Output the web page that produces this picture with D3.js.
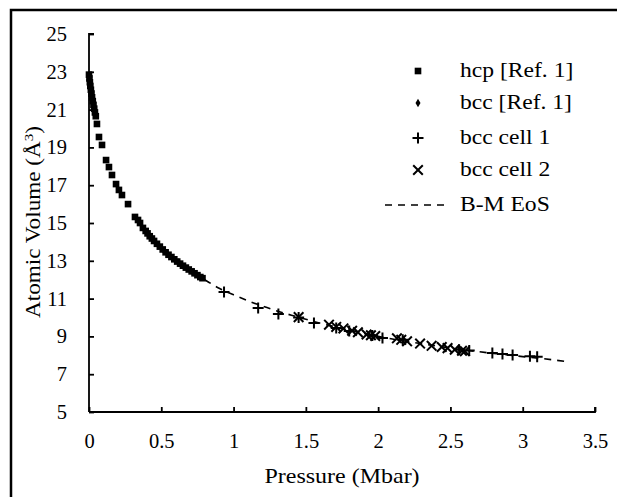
<!DOCTYPE html>
<html><head><meta charset="utf-8">
<script src="https://cdn.jsdelivr.net/npm/d3@7"></script>
<style>body{margin:0;background:#fff}svg{display:block}</style>
</head><body><svg id="c" width="617" height="497"></svg>
<script>
// hcp [Ref. 1]
const hcpP = [0,0.003,0.006,0.009,0.013,0.017,0.021,0.026,0.031,0.036,0.041,0.047,0.055,0.069,0.09,0.118,0.138,0.159,0.187,0.207,0.228,0.27,0.318,0.339,0.353,0.373,0.392,0.405,0.42,0.435,0.45,0.47,0.49,0.51,0.53,0.55,0.57,0.59,0.61,0.63,0.65,0.67,0.69,0.71,0.73,0.75,0.77,0.785];
const hcpV = [22.85,22.65,22.45,22.25,22.05,21.85,21.65,21.45,21.25,21.05,20.85,20.65,20.24,19.55,19.13,18.33,17.96,17.54,17.06,16.75,16.48,16.0,15.32,15.16,15.0,14.74,14.58,14.45,14.3,14.18,14.05,13.9,13.75,13.6,13.45,13.32,13.2,13.08,12.96,12.85,12.74,12.64,12.54,12.44,12.34,12.24,12.14,12.08];
// bcc [Ref. 1]
const bccRefP = [0.52,0.62,0.72];
const bccRefV = [13.52,12.9,12.4];
// bcc cell 1
const cell1P = [0.934,1.17,1.31,1.45,1.556,1.71,1.8,1.96,2.03,2.17,2.56,2.63,2.79,2.86,2.93,3.05,3.1];
const cell1V = [11.35,10.5,10.19,10.0,9.71,9.44,9.29,9.05,8.92,8.82,8.3,8.26,8.12,8.07,8.02,7.95,7.92];
// bcc cell 2
const cell2P = [1.45,1.66,1.71,1.76,1.82,1.86,1.92,1.95,1.98,2.13,2.16,2.2,2.29,2.37,2.44,2.48,2.53,2.58,2.6];
const cell2V = [10.02,9.62,9.5,9.42,9.3,9.22,9.1,9.06,9.02,8.9,8.82,8.74,8.62,8.5,8.44,8.38,8.3,8.24,8.22];
// B-M EoS
const bmP = [0.8,0.9,1.0,1.2,1.4,1.6,1.8,2.0,2.2,2.4,2.6,2.8,3.0,3.2,3.32];
const bmV = [12.0,11.55,11.2,10.6,10.12,9.7,9.33,9.0,8.73,8.5,8.28,8.1,7.93,7.77,7.65];
const xTicks = [0,0.5,1,1.5,2,2.5,3,3.5];
const yTicks = [5,7,9,11,13,15,17,19,21,23,25];
const legendLabels = ["hcp [Ref. 1]","bcc [Ref. 1]","bcc cell 1","bcc cell 2","B-M EoS"];

const FONT = '"Liberation Serif", "Times New Roman", Times, serif';
const svg = d3.select("#c").attr("font-family", FONT);
const x = d3.scaleLinear().domain([0,3.5]).range([89,595]);
const y = d3.scaleLinear().domain([5,25]).range([412,34]);

// outer frame (cropped: top and left edges visible)
svg.append("path").attr("d","M11,497V10H617").attr("fill","none").attr("stroke","#000").attr("stroke-width",2.5);

// axes
const xa = svg.append("g").attr("transform","translate(0,412)")
  .call(d3.axisBottom(x).tickValues(xTicks).tickSize(-5).tickPadding(21).tickFormat(d3.format("")));
const ya = svg.append("g").attr("transform","translate(89,0)")
  .call(d3.axisLeft(y).tickValues(yTicks).tickSize(-5).tickPadding(22).tickFormat(d3.format("")));
[xa,ya].forEach(g=>{
  g.attr("font-family", FONT).attr("font-size", 20.5);
  g.select(".domain").attr("stroke","#000").attr("stroke-width",1.8);
  g.selectAll(".tick line").attr("stroke","#000").attr("stroke-width",1.8);
  g.selectAll("text").attr("fill","#000");
});
ya.select(".domain").attr("d","M5,34H0V412");
xa.select(".domain").attr("d","M89,0H595V-5");

// axis titles
svg.append("text").attr("transform","translate(342,483) scale(1.2,1)").attr("text-anchor","middle").attr("font-size",20).text("Pressure (Mbar)");
const yt = svg.append("text").attr("transform","translate(40,222) rotate(-90) scale(1.16,1)").attr("text-anchor","middle").attr("font-size",20);
yt.append("tspan").text("Atomic Volume (Å");
yt.append("tspan").attr("dy",-7).attr("font-size",13).text("3");
yt.append("tspan").attr("dy",7).text(")");

// B-M EoS dashed line
const line = d3.line().x(d=>x(d[0])).y(d=>y(d[1])).curve(d3.curveMonotoneX);
svg.append("path").datum(bmP.map((p,i)=>[p,bmV[i]])).attr("d",line)
  .attr("fill","none").attr("stroke","#000").attr("stroke-width",1.6).attr("stroke-dasharray","7,6");

const sq = d3.symbol().type(d3.symbolSquare).size(44);
const dia = d3.symbol().type(d3.symbolDiamond).size(22);
const plusPath = s=>`M${-s},0H${s}M0,${-s}V${s}`;
const crossPath = s=>`M${-s},${-s}L${s},${s}M${-s},${s}L${s},${-s}`;

svg.append("g").selectAll("path").data(hcpP.map((p,i)=>[p,hcpV[i]])).join("path")
  .attr("d",sq()).attr("transform",d=>`translate(${x(d[0])},${y(d[1])})`).attr("fill","#000");
svg.append("g").selectAll("path").data(bccRefP.map((p,i)=>[p,bccRefV[i]])).join("path")
  .attr("d",dia()).attr("transform",d=>`translate(${x(d[0])},${y(d[1])})`).attr("fill","#000");
svg.append("g").selectAll("path").data(cell1P.map((p,i)=>[p,cell1V[i]])).join("path")
  .attr("d",plusPath(5.5)).attr("transform",d=>`translate(${x(d[0])},${y(d[1])})`).attr("stroke","#000").attr("stroke-width",2);
svg.append("g").selectAll("path").data(cell2P.map((p,i)=>[p,cell2V[i]])).join("path")
  .attr("d",crossPath(4.8)).attr("transform",d=>`translate(${x(d[0])},${y(d[1])})`).attr("stroke","#000").attr("stroke-width",2).attr("fill","none");

// legend
const lg = svg.append("g");
const rows = [71,103,138,170,205];
lg.append("path").attr("d",sq()).attr("transform",`translate(418,${rows[0]})`);
lg.append("path").attr("d",dia()).attr("transform",`translate(418,${rows[1]})`);
lg.append("path").attr("d",plusPath(5.5)).attr("transform",`translate(418,${rows[2]})`).attr("stroke","#000").attr("stroke-width",2);
lg.append("path").attr("d",crossPath(4.8)).attr("transform",`translate(418,${rows[3]})`).attr("stroke","#000").attr("stroke-width",2);
lg.append("line").attr("x1",385).attr("x2",447).attr("y1",rows[4]).attr("y2",rows[4]).attr("stroke","#000").attr("stroke-width",1.6).attr("stroke-dasharray","7,6");
legendLabels.forEach((t,i)=>{
  lg.append("text").attr("transform",`translate(460,${rows[i]+6}) scale(1.18,1)`).attr("font-size",20).text(t);
});
</script></body></html>
